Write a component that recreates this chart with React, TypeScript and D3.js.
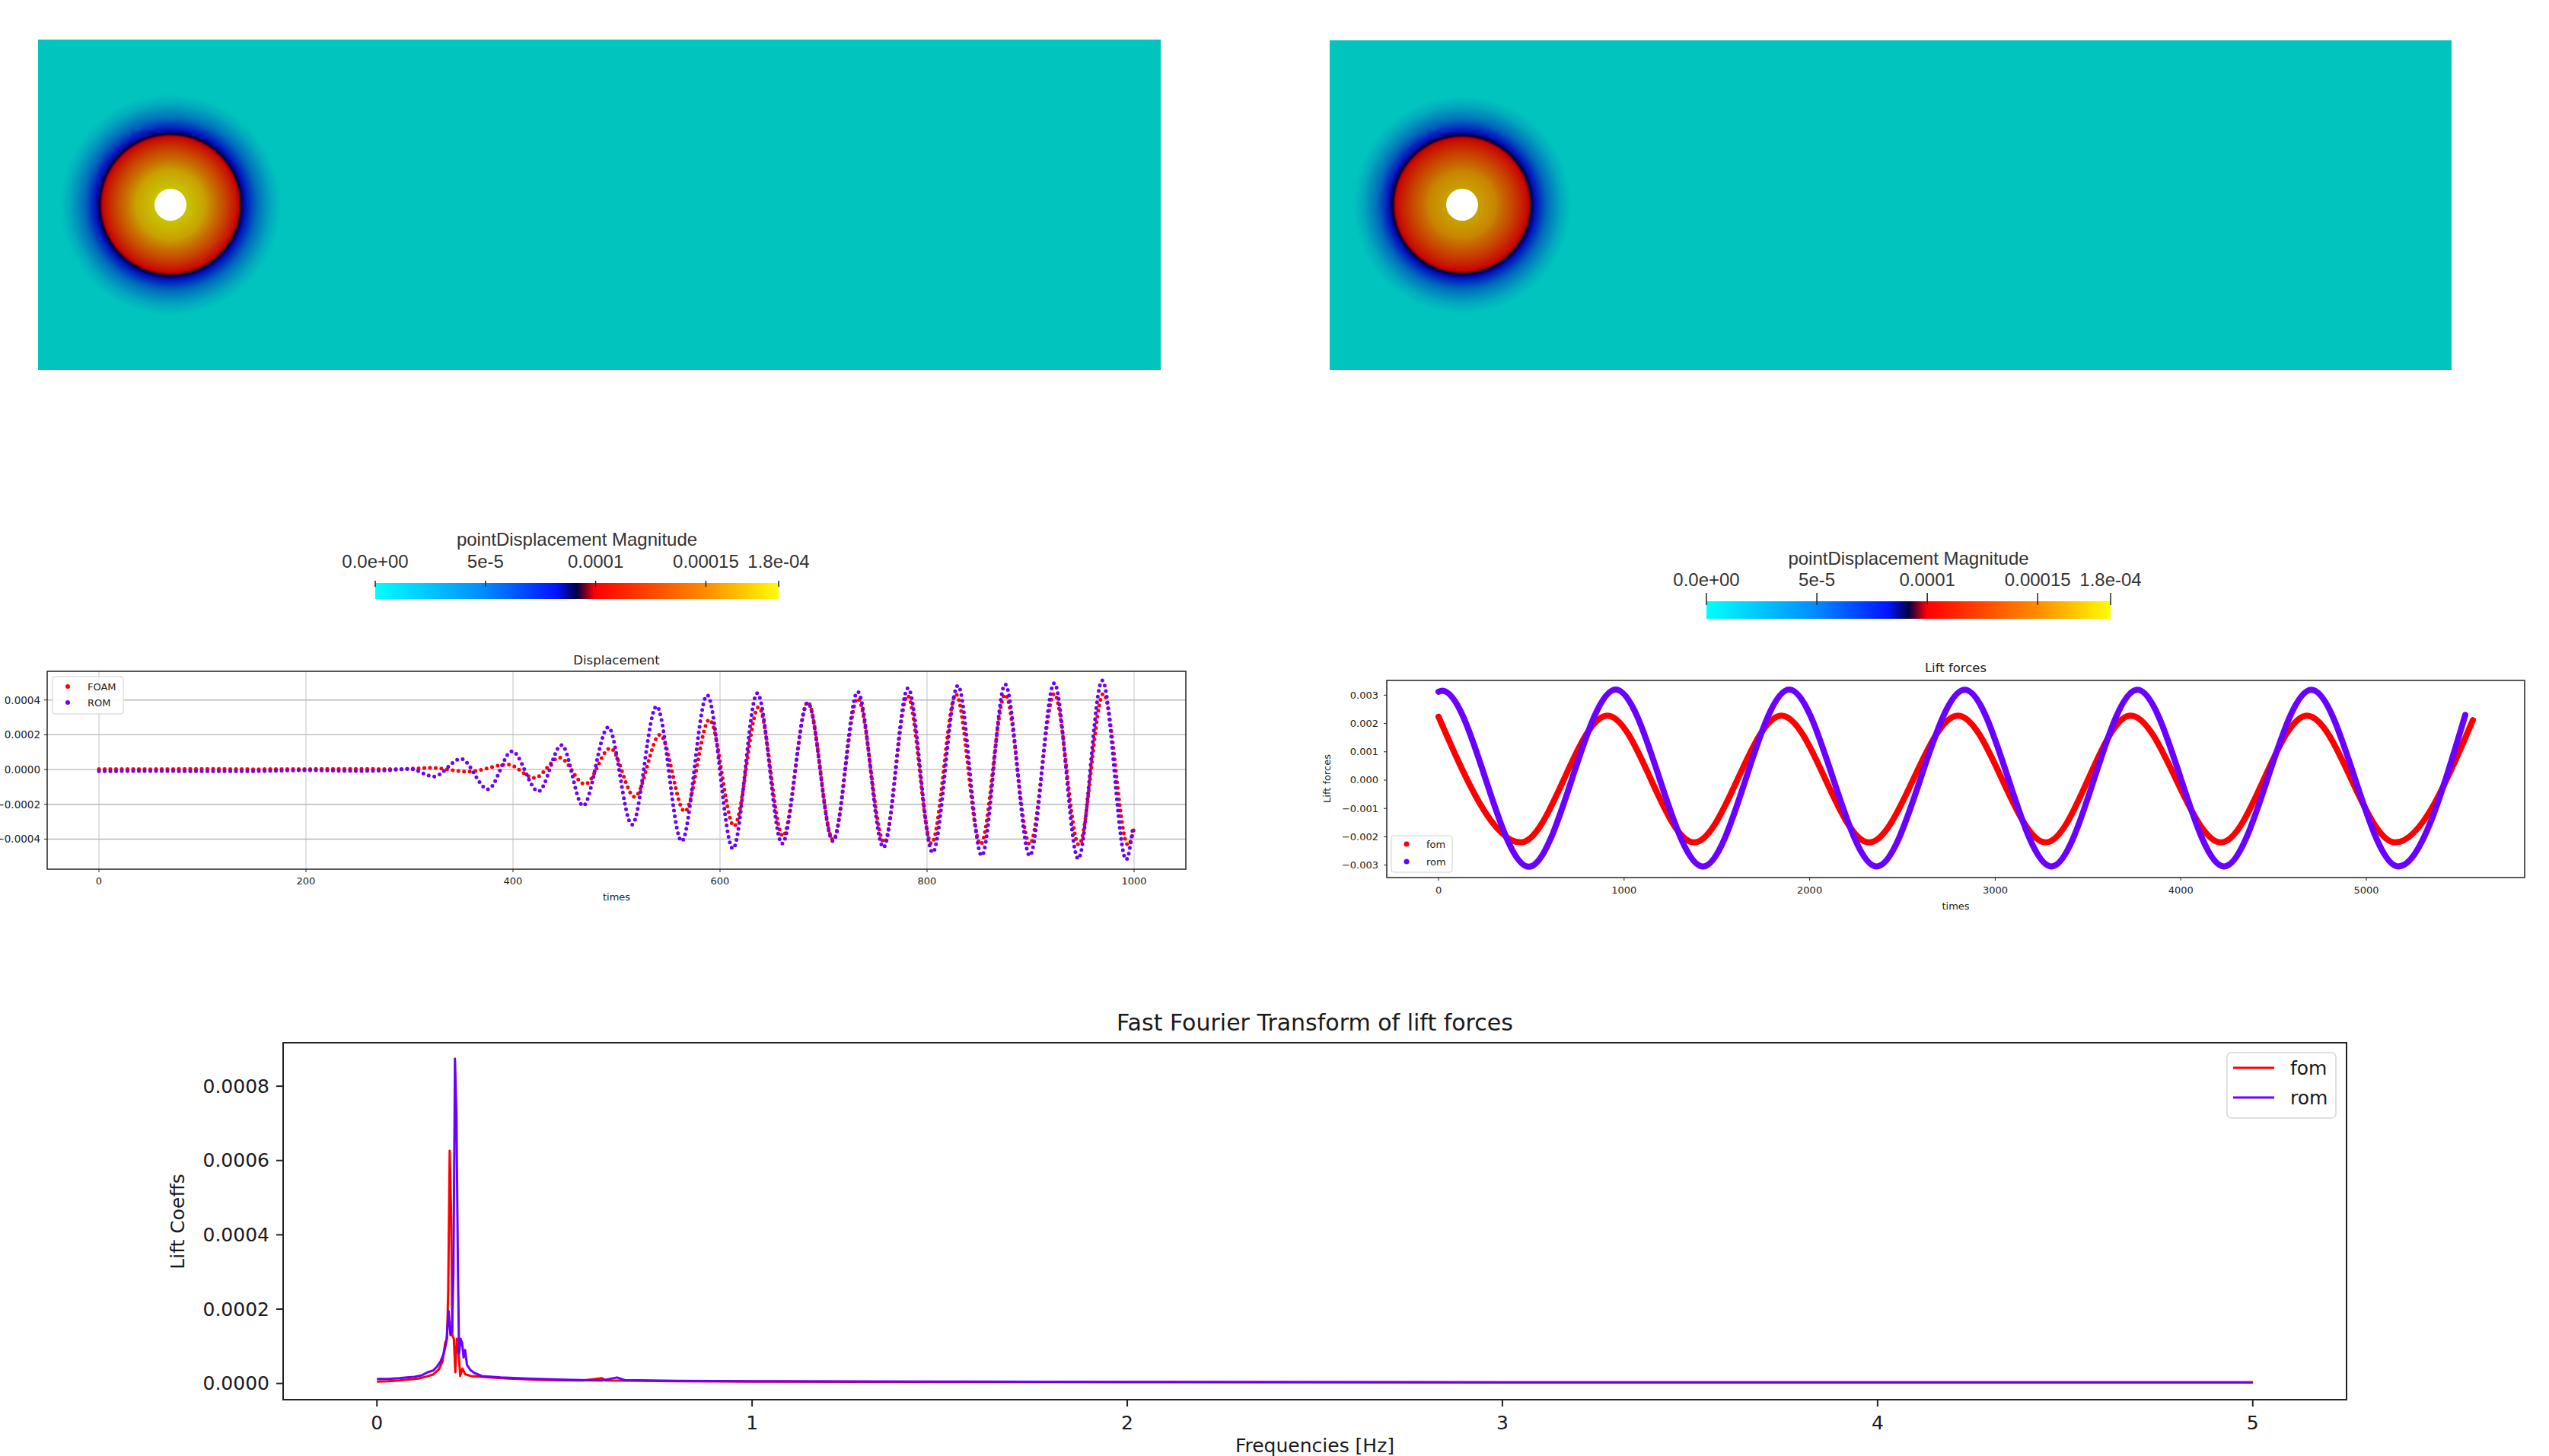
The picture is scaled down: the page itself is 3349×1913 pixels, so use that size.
import React from 'react'
import * as d3 from 'd3'

type Pt = [number, number]

const RED = '#ff0000'
const VIOLET = '#6a00ff'
const font = 'DejaVu Sans, sans-serif'
const pvFont = 'Liberation Sans, Arial, sans-serif'

// colour map of the displacement field (ParaView style)
const cmapStops = [0, 0.13, 0.27, 0.45, 0.5, 0.545, 0.68, 0.82, 1]
const cmapColors = ['#00ffff', '#00c8ff', '#008cff', '#0014ff', '#000046', '#ff0000', '#ff4600', '#ff8c00', '#ffff00']
const barMax = 1.83e-4
const barTicks = [0, 5e-5, 1e-4, 1.5e-4, 1.83e-4]
const barTickLabels = ['0.0e+00', '5e-5', '0.0001', '0.00015', '1.8e-04']
const barTitle = 'pointDisplacement Magnitude'

// displacement magnitude around the cylinder: distance (px) -> fraction of max
const fieldRadiusLeft = [21, 45, 65, 85, 90, 93, 98, 108, 120, 132, 145]
const fieldLeft = [1.0, 0.93, 0.78, 0.6, 0.54, 0.5, 0.45, 0.33, 0.2, 0.08, 0]
const fieldRadiusRight = [21, 44, 63, 83, 88, 91, 96, 106, 118, 130, 143]
const fieldRight = [0.93, 0.87, 0.74, 0.59, 0.54, 0.5, 0.45, 0.33, 0.2, 0.08, 0]

// Displacement (times, value)
const foamDisp: Pt[] = [
  [0, 0.000003], [50, 0.000002], [100, 0.000004], [150, 0.000002], [200, 0.000003], [250, 0.000004],
  [290, 0.000002], [320, 0.00001], [357, -0.000012], [395, 0.000029], [420.7, -0.000048], [445, 0.000068],
  [469.6, -0.000084], [494, 0.000122], [517.5, -0.000157], [542, 0.0002], [566, -0.000241], [589.8, 0.000287],
  [613.6, -0.000324], [637.3, 0.000359], [660.7, -0.000383], [684.8, 0.000388], [709.2, -0.000404],
  [733, 0.00041], [758.6, -0.000419], [781.2, 0.000425], [804.3, -0.000426], [828, 0.000432],
  [851.7, -0.00043], [875.5, 0.000432], [899.2, -0.00043], [922.9, 0.000436], [946.7, -0.000433],
  [970.4, 0.000436], [994.1, -0.000433], [999.6, -0.000349],
]
const romDisp: Pt[] = [
  [0, -0.00001], [50, -0.000008], [100, -0.00001], [150, -0.000009], [200, -0.000004], [250, -0.000008],
  [280, -0.000004], [300, 0.000004], [323.5, -0.00004], [349.7, 0.000061], [375.9, -0.000113], [399, 0.000105],
  [424.6, -0.000125], [447, 0.000141], [467.7, -0.000208], [492, 0.000243], [515, -0.000317], [538.7, 0.000364],
  [563, -0.000412], [587.6, 0.000428], [612.5, -0.000455], [636, 0.000439], [660, -0.000426], [684.8, 0.000384],
  [709.2, -0.000412], [733, 0.000447], [757.9, -0.000448], [781.6, 0.000468], [805.4, -0.000477],
  [829.8, 0.000483], [852.8, -0.000495], [875.5, 0.00049], [899.2, -0.000495], [922.9, 0.000497],
  [946, -0.000513], [969.3, 0.000512], [992.4, -0.000518], [998.9, -0.000332],
]
const dispXTicks = [0, 200, 400, 600, 800, 1000]
const dispYTicks = [-0.0004, -0.0002, 0, 0.0002, 0.0004]

// Lift forces (times, value)
const fomLift: Pt[] = [
  [0, 0.00224], [443, -0.0022], [910, 0.00228], [1377, -0.0022], [1848, 0.00228], [2320, -0.0022],
  [2799, 0.00228], [3273, -0.0022], [3730, 0.00228], [4217, -0.0022], [4680, 0.00228], [5156, -0.0022],
  [5574, 0.00212],
]
const romLift: Pt[] = [
  [0, 0.00312], [20, 0.00316], [486, -0.00306], [955, 0.0032], [1425, -0.00305], [1890, 0.0032],
  [2361, -0.00305], [2836, 0.00319], [3303, -0.00305], [3766, 0.00319], [4233, -0.00305], [4704, 0.00319],
  [5172, -0.00305], [5533, 0.0023],
]
const liftXTicks = [0, 1000, 2000, 3000, 4000, 5000]
const liftYTicks = [-0.003, -0.002, -0.001, 0, 0.001, 0.002, 0.003]

// FFT of lift forces (frequency Hz, coefficient)
const fomFft: Pt[] = [
  [0, 0.000005], [0.03, 0.000006], [0.06, 0.000008], [0.09, 0.000011], [0.11, 0.000013], [0.13, 0.000018],
  [0.15, 0.000024], [0.165, 0.000038], [0.175, 0.00006], [0.182, 0.00011], [0.187, 0.00012], [0.19, 0.00025],
  [0.194, 0.000626], [0.198, 0.00045], [0.201, 0.00013], [0.205, 0.00012], [0.209, 0.00003], [0.213, 0.00012],
  [0.218, 0.00008], [0.222, 0.00002], [0.228, 0.00004], [0.235, 0.000025], [0.25, 0.00002], [0.3, 0.000016],
  [0.35, 0.000013], [0.45, 0.000009], [0.55, 0.000008], [0.6, 0.000014], [0.61, 0.000008], [0.8, 0.000006],
  [1, 0.000005], [1.5, 0.000004], [2, 0.000004], [3, 0.000003], [4, 0.000003], [5, 0.000003],
]
const romFft: Pt[] = [
  [0, 0.000012], [0.03, 0.000012], [0.06, 0.000014], [0.08, 0.000016], [0.1, 0.000018], [0.12, 0.000022],
  [0.135, 0.00003], [0.15, 0.000035], [0.16, 0.000045], [0.17, 0.00006], [0.178, 0.00008], [0.185, 0.00011],
  [0.191, 0.000195], [0.196, 0.00013], [0.2, 0.00014], [0.204, 0.0003], [0.208, 0.000874], [0.212, 0.00072],
  [0.216, 0.0003], [0.219, 0.00008], [0.223, 0.00012], [0.227, 0.00011], [0.231, 0.00007], [0.235, 0.00009],
  [0.24, 0.00005], [0.25, 0.000035], [0.26, 0.000028], [0.28, 0.00002], [0.33, 0.000016], [0.4, 0.000013],
  [0.5, 0.00001], [0.6, 0.000008], [0.64, 0.000016], [0.66, 0.000009], [0.8, 0.000007], [1, 0.000006],
  [1.5, 0.000005], [2, 0.000004], [3, 0.000003], [4, 0.000003], [5, 0.000003],
]
const fftXTicks = [0, 1, 2, 3, 4, 5]
const fftYTicks = [0, 0.0002, 0.0004, 0.0006, 0.0008]

const cmap = d3.scaleLinear<string>().domain(cmapStops).range(cmapColors).interpolate(d3.interpolateRgb).clamp(true)
// lit surface in the render is darker than the bar
const shade = (c: string) => {
  const k = d3.rgb(c)
  return d3.rgb(k.r * 0.785, k.g * 0.77, k.b * 0.74).formatHex()
}

function Field({ id, x0, x1, y0, y1, cx, cy, radius, values }: any) {
  const prof = d3.scaleLinear().domain(radius).range(values).clamp(true)
  const R = radius[radius.length - 1]
  const rs = d3.range(0, R + 1, 1)
  return (
    <g>
      <defs>
        <radialGradient id={id} gradientUnits="userSpaceOnUse" cx={cx} cy={cy} r={R}>
          {rs.map(r => <stop key={r} offset={r / R} stopColor={shade(cmap(prof(r)))} />)}
        </radialGradient>
      </defs>
      <rect x={x0} y={y0} width={x1 - x0} height={y1 - y0} fill={shade('#00ffff')} />
      <circle cx={cx} cy={cy} r={R} fill={`url(#${id})`} />
      <circle cx={cx} cy={cy} r={21} fill="#fff" />
    </g>
  )
}

function ColorBar({ id, x0, x1, y0, y1, tickTop, tickBottom, labelY, titleY }: any) {
  const s = d3.scaleLinear([0, barMax], [x0, x1])
  return (
    <g fontFamily={pvFont} fill="#333">
      <defs>
        <linearGradient id={id} x1="0" x2="1" y1="0" y2="0">
          {cmapStops.map((o, i) => <stop key={i} offset={o} stopColor={cmapColors[i]} />)}
        </linearGradient>
      </defs>
      <rect x={x0} y={y0} width={x1 - x0} height={y1 - y0} fill={`url(#${id})`} />
      {barTicks.map((t, i) => (
        <g key={i}>
          <line x1={s(t)} x2={s(t)} y1={tickTop} y2={tickBottom} stroke="#222" strokeWidth={1.5} />
          <text x={s(t)} y={labelY} textAnchor="middle" fontSize={24}>{barTickLabels[i]}</text>
        </g>
      ))}
      <text x={(x0 + x1) / 2} y={titleY} textAnchor="middle" fontSize={24}>{barTitle}</text>
    </g>
  )
}

function DispChart() {
  const L = 62, R = 1558, T = 882, B = 1142
  const x = d3.scaleLinear([-50, 1050], [L, R])
  const y = d3.scaleLinear([-0.000573, 0.000565], [B, T])
  const line = d3.line<Pt>().x(d => x(d[0])).y(d => y(d[1])).curve(d3.curveMonotoneX)
  const fy = d3.format('.4f')
  return (
    <g fontFamily={font} fill="#222">
      {dispXTicks.map(t => <line key={'gx' + t} x1={x(t)} x2={x(t)} y1={T} y2={B} stroke="#c4c4c4" strokeWidth={1} />)}
      {dispYTicks.map(t => <line key={'gy' + t} x1={L} x2={R} y1={y(t)} y2={y(t)} stroke="#b8b8b8" strokeWidth={1.4} />)}
      <path d={line(foamDisp) || ''} fill="none" stroke={RED} strokeWidth={5} strokeDasharray="0 7.5" strokeLinecap="round" />
      <path d={line(romDisp) || ''} fill="none" stroke={VIOLET} strokeWidth={5} strokeDasharray="0 7.5" strokeLinecap="round" />
      <rect x={L} y={T} width={R - L} height={B - T} fill="none" stroke="#222" strokeWidth={1.5} />
      {dispXTicks.map(t => (
        <g key={'tx' + t}>
          <line x1={x(t)} x2={x(t)} y1={B} y2={B + 4} stroke="#222" />
          <text x={x(t)} y={B + 20} textAnchor="middle" fontSize={13}>{t}</text>
        </g>
      ))}
      {dispYTicks.map(t => (
        <g key={'ty' + t}>
          <line x1={L - 4} x2={L} y1={y(t)} y2={y(t)} stroke="#222" />
          <text x={L - 9} y={y(t)} textAnchor="end" dominantBaseline="central" fontSize={13.5}>{fy(t)}</text>
        </g>
      ))}
      <text x={(L + R) / 2} y={T - 9} textAnchor="middle" fontSize={16.5}>Displacement</text>
      <text x={(L + R) / 2} y={B + 41} textAnchor="middle" fontSize={13}>times</text>
      <rect x={69} y={889} width={93} height={49} rx={3} fill="#fff" fillOpacity={0.85} stroke="#d0d0d0" />
      <circle cx={89} cy={902} r={3} fill={RED} />
      <circle cx={89} cy={923} r={3} fill={VIOLET} />
      <text x={115} y={902} dominantBaseline="central" fontSize={13}>FOAM</text>
      <text x={115} y={923} dominantBaseline="central" fontSize={13}>ROM</text>
    </g>
  )
}

function LiftChart() {
  const L = 1822, R = 3317, T = 894, B = 1153
  const x = d3.scaleLinear([-279, 5853], [L, R])
  const y = d3.scaleLinear([-0.00344, 0.00352], [B, T])
  const line = d3.line<Pt>().x(d => x(d[0])).y(d => y(d[1])).curve(d3.curveMonotoneX)
  const fy = d3.format('.3f')
  return (
    <g fontFamily={font} fill="#222">
      <path d={line(fomLift) || ''} fill="none" stroke={RED} strokeWidth={8} strokeLinecap="round" strokeLinejoin="round" />
      <path d={line(romLift) || ''} fill="none" stroke={VIOLET} strokeWidth={8} strokeLinecap="round" strokeLinejoin="round" />
      <rect x={L} y={T} width={R - L} height={B - T} fill="none" stroke="#222" strokeWidth={1.5} />
      {liftXTicks.map(t => (
        <g key={'tx' + t}>
          <line x1={x(t)} x2={x(t)} y1={B} y2={B + 4} stroke="#222" />
          <text x={x(t)} y={B + 21} textAnchor="middle" fontSize={13}>{t}</text>
        </g>
      ))}
      {liftYTicks.map(t => (
        <g key={'ty' + t}>
          <line x1={L - 4} x2={L} y1={y(t)} y2={y(t)} stroke="#222" />
          <text x={L - 11} y={y(t)} textAnchor="end" dominantBaseline="central" fontSize={13}>{fy(t)}</text>
        </g>
      ))}
      <text x={(L + R) / 2} y={T - 11} textAnchor="middle" fontSize={16.5}>Lift forces</text>
      <text x={(L + R) / 2} y={B + 42} textAnchor="middle" fontSize={13}>times</text>
      <text transform={`translate(1743,1023) rotate(-90)`} textAnchor="middle" dominantBaseline="central" fontSize={13}>Lift forces</text>
      <rect x={1828} y={1098} width={80} height={48} rx={3} fill="#fff" fillOpacity={0.85} stroke="#d0d0d0" />
      <circle cx={1848} cy={1109} r={3.5} fill={RED} />
      <circle cx={1848} cy={1132} r={3.5} fill={VIOLET} />
      <text x={1874} y={1109} dominantBaseline="central" fontSize={13}>fom</text>
      <text x={1874} y={1132} dominantBaseline="central" fontSize={13}>rom</text>
    </g>
  )
}

function FftChart() {
  const L = 372, R = 3083, T = 1370, B = 1839
  const x = d3.scaleLinear([-0.25, 5.25], [L, R])
  const y = d3.scaleLinear([-0.0000437, 0.000917], [B, T])
  const line = d3.line<Pt>().x(d => x(d[0])).y(d => y(d[1]))
  const fy = d3.format('.4f')
  return (
    <g fontFamily={font} fill="#1a1a1a">
      <path d={line(fomFft) || ''} fill="none" stroke={RED} strokeWidth={3} strokeLinejoin="round" />
      <path d={line(romFft) || ''} fill="none" stroke={VIOLET} strokeWidth={3} strokeLinejoin="round" />
      <rect x={L} y={T} width={R - L} height={B - T} fill="none" stroke="#222" strokeWidth={2} />
      {fftXTicks.map(t => (
        <g key={'tx' + t}>
          <line x1={x(t)} x2={x(t)} y1={B} y2={B + 9} stroke="#222" strokeWidth={2} />
          <text x={x(t)} y={B + 39} textAnchor="middle" fontSize={25}>{t}</text>
        </g>
      ))}
      {fftYTicks.map(t => (
        <g key={'ty' + t}>
          <line x1={L - 9} x2={L} y1={y(t)} y2={y(t)} stroke="#222" strokeWidth={2} />
          <text x={L - 18} y={y(t)} textAnchor="end" dominantBaseline="central" fontSize={25}>{fy(t)}</text>
        </g>
      ))}
      <text x={(L + R) / 2} y={T - 16} textAnchor="middle" fontSize={30}>Fast Fourier Transform of lift forces</text>
      <text x={(L + R) / 2} y={1908} textAnchor="middle" fontSize={25}>Frequencies [Hz]</text>
      <text transform={`translate(233,1605) rotate(-90)`} textAnchor="middle" dominantBaseline="central" fontSize={25}>Lift Coeffs</text>
      <rect x={2926} y={1383} width={143} height={86} rx={6} fill="#fff" fillOpacity={0.85} stroke="#d6d6d6" strokeWidth={1.5} />
      <line x1={2934} x2={2988} y1={1403} y2={1403} stroke={RED} strokeWidth={3} />
      <line x1={2934} x2={2988} y1={1442} y2={1442} stroke={VIOLET} strokeWidth={3} />
      <text x={3009} y={1403} dominantBaseline="central" fontSize={25}>fom</text>
      <text x={3009} y={1442} dominantBaseline="central" fontSize={25}>rom</text>
    </g>
  )
}

export default function App() {
  return (
    <div style={{ position: 'absolute', left: 0, top: 0 }}>
      <svg width={3349} height={1913} style={{ display: 'block', background: '#fff' }}>
        <Field id="fieldL" x0={50} x1={1525} y0={52} y1={486} cx={224} cy={269} radius={fieldRadiusLeft} values={fieldLeft} />
        <Field id="fieldR" x0={1747} x1={3221} y0={53} y1={486} cx={1921} cy={269} radius={fieldRadiusRight} values={fieldRight} />
        <ColorBar id="barL" x0={493} x1={1023} y0={766} y1={787} tickTop={763} tickBottom={771} labelY={746} titleY={717} />
        <ColorBar id="barR" x0={2242} x1={2773} y0={790} y1={813} tickTop={779} tickBottom={795} labelY={770} titleY={742} />
        <DispChart />
        <LiftChart />
        <FftChart />
      </svg>
    </div>
  )
}
